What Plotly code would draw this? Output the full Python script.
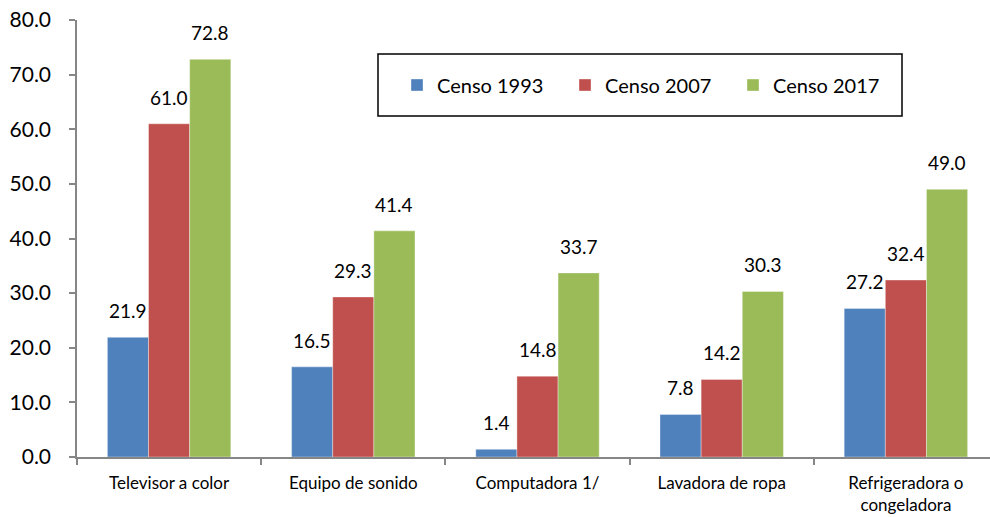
import plotly.graph_objects as go

categories = ["Televisor a color", "Equipo de sonido", "Computadora 1/",
              "Lavadora de ropa", "Refrigeradora o<br>congeladora"]
series_names = ["Censo 1993", "Censo 2007", "Censo 2017"]
censo_1993 = [21.9, 16.5, 1.4, 7.8, 27.2]
censo_2007 = [61.0, 29.3, 14.8, 14.2, 32.4]
censo_2017 = [72.8, 41.4, 33.7, 30.3, 49.0]
y_ticks = [0, 10, 20, 30, 40, 50, 60, 70, 80]

colors = ["#4F81BD", "#C0504D", "#9BBB59"]
FONT = "Lato"
all_series = [censo_1993, censo_2007, censo_2017]

fig = go.Figure()
for name, vals, col in zip(series_names, all_series, colors):
    fig.add_trace(go.Bar(
        x=categories, y=vals, name=name,
        marker=dict(color=col, line=dict(width=0.6, color="rgba(255,255,255,0.6)")),
    ))

bargap = 0.33
bar_w = (1 - bargap) / 3
annotations = []
for k, vals in enumerate(all_series):
    for i, v in enumerate(vals):
        annotations.append(dict(
            x=i + (k - 1) * bar_w, y=v, xref="x", yref="y",
            text=f"{v:.1f}", showarrow=False, yanchor="bottom",
            yshift=13, font=dict(family=FONT, size=19, color="black"),
        ))

fig.update_layout(
    width=990, height=517,
    margin=dict(l=77, r=0, t=20, b=60, autoexpand=False),
    paper_bgcolor="white", plot_bgcolor="white",
    barmode="group", bargap=bargap, bargroupgap=0,
    font=dict(family=FONT, color="black"),
    showlegend=True,
    legend=dict(
        orientation="h", x=(397 - 77) / 913, y=(457 - 85) / 437,
        xanchor="left", yanchor="middle",
        font=dict(family=FONT, size=20, color="black"),
        entrywidth=123, entrywidthmode="pixels",
        bgcolor="rgba(0,0,0,0)", traceorder="normal",
    ),
    annotations=annotations,
    shapes=[dict(type="rect", xref="paper", yref="paper",
                 x0=(378 - 77) / 913, x1=(902 - 77) / 913,
                 y0=(457 - 116) / 437, y1=(457 - 54) / 437,
                 line=dict(color="black", width=1.5), fillcolor="rgba(0,0,0,0)")],
    xaxis=dict(
        type="category",
        range=[-0.5, -0.5 + 913 / 184.2],
        tickson="boundaries",
        tickfont=dict(family=FONT, size=17, color="black"),
        showline=True, linecolor="#868686", linewidth=1.5,
        ticks="outside", ticklen=6, tickcolor="#868686", tickwidth=1.5,
        ticklabelstandoff=10, automargin=False,
        showgrid=False, zeroline=False, fixedrange=True,
    ),
    yaxis=dict(
        range=[0, 80], tickmode="array", tickvals=y_ticks,
        ticktext=[f"{t:.1f}" for t in y_ticks],
        tickfont=dict(family=FONT, size=21, color="black"),
        showline=True, linecolor="#868686", linewidth=1.5,
        ticks="outside", ticklen=6, tickcolor="#868686", tickwidth=1.5,
        ticklabelstandoff=14, automargin=False,
        showgrid=False, zeroline=False,
    ),
)

fig.write_html("out.html", config={"displayModeBar": False},
               post_script="document.body.style.margin='0';document.body.style.overflow='hidden';")
